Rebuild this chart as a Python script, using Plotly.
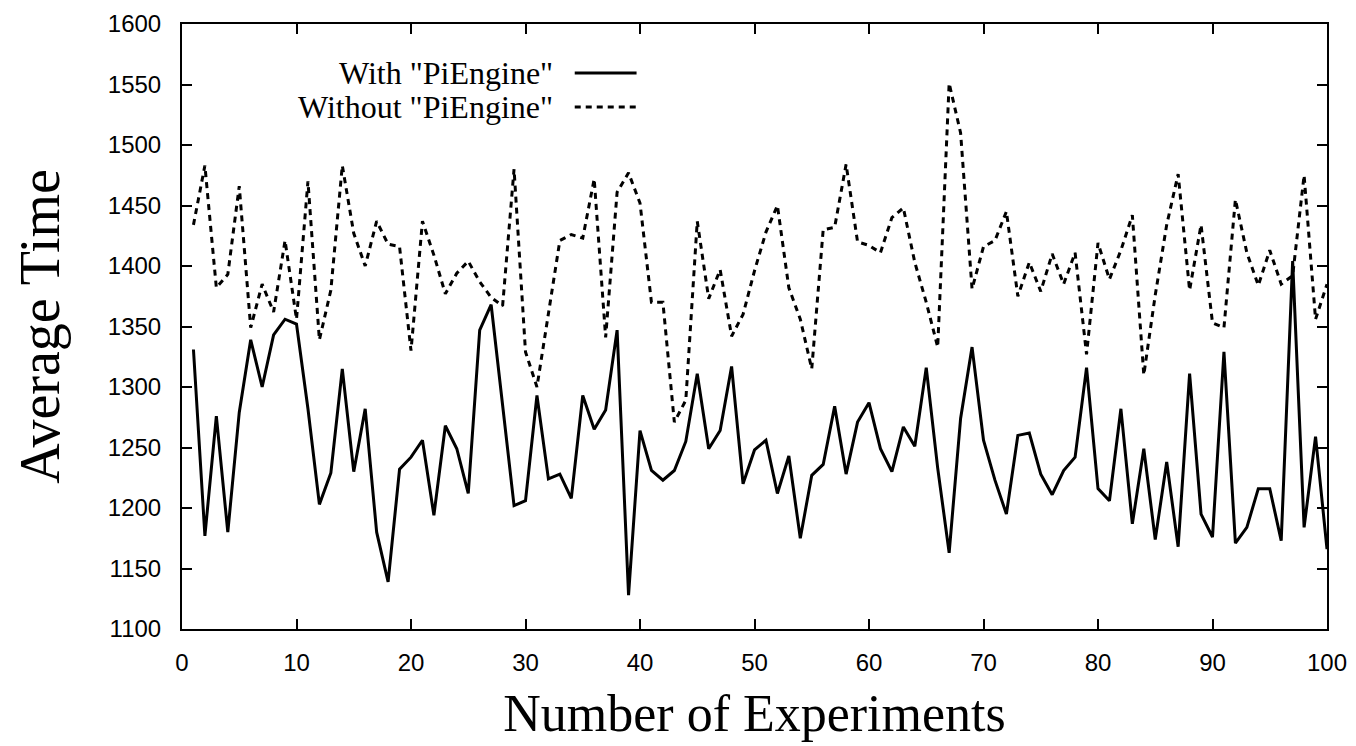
import plotly.graph_objects as go

experiments = list(range(1, 101))

with_piengine = [
    1331, 1177, 1276, 1180, 1279, 1339, 1300, 1343, 1356, 1352,
    1282, 1203, 1229, 1315, 1230, 1282, 1180, 1139, 1232, 1242,
    1256, 1194, 1268, 1249, 1212, 1347, 1368, 1285, 1202, 1206,
    1293, 1224, 1228, 1208, 1293, 1265, 1281, 1347, 1128, 1264,
    1231, 1223, 1231, 1255, 1311, 1249, 1264, 1317, 1220, 1248,
    1256, 1212, 1243, 1175, 1227, 1236, 1284, 1228, 1271, 1287,
    1249, 1230, 1267, 1251, 1316, 1233, 1163, 1274, 1333, 1256,
    1223, 1195, 1260, 1262, 1228, 1211, 1231, 1242, 1316, 1216,
    1206, 1282, 1187, 1249, 1174, 1238, 1168, 1311, 1195, 1176,
    1329, 1171, 1184, 1216, 1216, 1173, 1404, 1184, 1259, 1166,
]

without_piengine = [
    1434, 1483, 1382, 1393, 1466, 1349, 1385, 1362, 1421, 1356,
    1470, 1339, 1380, 1483, 1427, 1400, 1437, 1418, 1416, 1330,
    1437, 1409, 1377, 1394, 1404, 1387, 1374, 1367, 1480, 1329,
    1300, 1360, 1421, 1426, 1423, 1472, 1341, 1461, 1477, 1452,
    1370, 1370, 1271, 1289, 1437, 1373, 1397, 1342, 1360, 1396,
    1428, 1450, 1382, 1356, 1315, 1430, 1432, 1484, 1420, 1417,
    1411, 1440, 1448, 1403, 1370, 1333, 1551, 1510, 1381, 1416,
    1421, 1445, 1375, 1403, 1379, 1410, 1385, 1411, 1327, 1419,
    1389, 1413, 1442, 1310, 1376, 1434, 1476, 1380, 1434, 1353,
    1349, 1455, 1411, 1384, 1413, 1385, 1392, 1475, 1356, 1385,
]

legend_labels = ['With "PiEngine"', 'Without "PiEngine"']
x_ticks = list(range(0, 101, 10))
y_ticks = list(range(1100, 1601, 50))

fig = go.Figure()
fig.add_trace(go.Scatter(
    x=experiments, y=with_piengine, mode="lines", name=legend_labels[0],
    line=dict(color="black", width=3), showlegend=False,
))
fig.add_trace(go.Scatter(
    x=experiments, y=without_piengine, mode="lines", name=legend_labels[1],
    line=dict(color="black", width=3, dash="6px,5px"), showlegend=False,
))

# Legend drawn gnuplot-style: text on the left, line sample on the right
legend_rows_y = [0.919, 0.863]
legend_dashes = ["solid", "6px,5px"]
for label, ly, dash in zip(legend_labels, legend_rows_y, legend_dashes):
    fig.add_annotation(
        x=0.326, y=ly, xref="paper", yref="paper", text=label,
        showarrow=False, xanchor="right", yanchor="middle",
        font=dict(family="Liberation Serif", size=32, color="black"),
    )
    fig.add_shape(
        type="line", xref="paper", yref="paper",
        x0=0.343, x1=0.397, y0=ly, y1=ly,
        line=dict(color="black", width=3, dash=dash),
    )

axis_common = dict(
    showgrid=False, zeroline=False, showline=True, mirror="ticks",
    linecolor="black", linewidth=2, ticks="inside", ticklen=10,
    tickwidth=1.5, tickcolor="black",
    tickfont=dict(family="Liberation Sans", size=24, color="black"),
)

fig.update_xaxes(
    range=[0, 100], tickvals=x_ticks, ticklabelstandoff=11,
    title=dict(text="Number of Experiments", standoff=20,
               font=dict(family="Liberation Serif", size=52, color="black")),
    **axis_common,
)
fig.update_yaxes(
    range=[1100, 1600], tickvals=y_ticks, ticklabelstandoff=14,
    title=dict(text="Average Time", standoff=30,
               font=dict(family="Liberation Serif", size=56, color="black")),
    **axis_common,
)

fig.update_layout(
    width=1356, height=746,
    margin=dict(l=182, r=29, t=24, b=117, autoexpand=False),
    plot_bgcolor="white", paper_bgcolor="white",
)

fig.write_html(
    "out.html",
    config={"displayModeBar": False},
    post_script="document.body.style.margin='0px';",
)
